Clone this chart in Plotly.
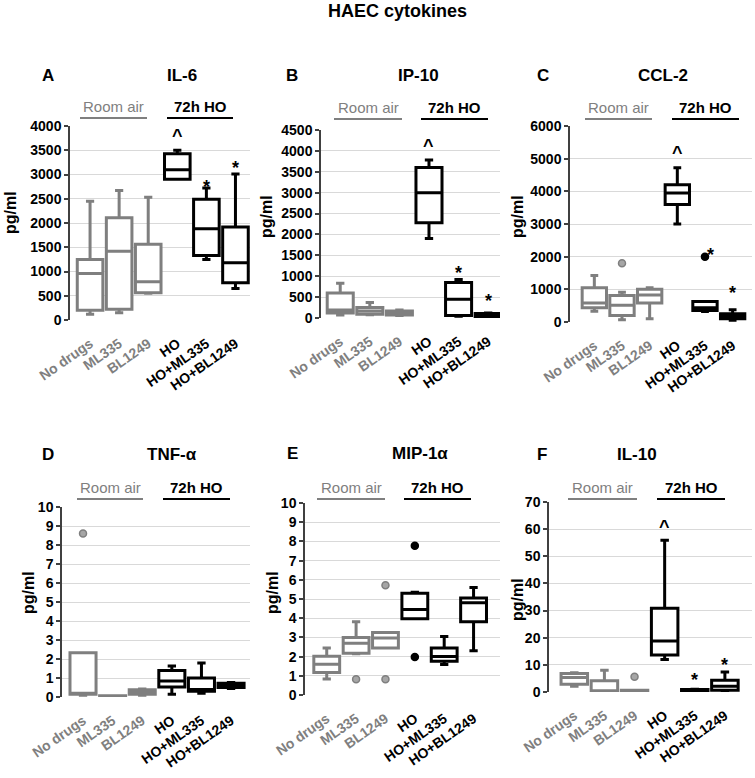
import plotly.graph_objects as go

W, H = 755, 778

CATEGORIES = ["No drugs", "ML335", "BL1249", "HO", "HO+ML335", "HO+BL1249"]

# ---- IL-6 (A) ----
IL6_LOW = [120, 150, 550, 2900, 1250, 650]
IL6_Q1 = [200, 220, 560, 2900, 1330, 770]
IL6_MED = [960, 1420, 790, 3100, 1880, 1180]
IL6_Q3 = [1250, 2110, 1560, 3430, 2490, 1920]
IL6_HIGH = [2450, 2670, 2530, 3500, 2720, 3010]
IL6_OUT_X = []
IL6_OUT_Y = []
IL6_MARK_X = ["HO", "HO+ML335", "HO+BL1249"]
IL6_MARK_Y = [3850, 2800, 3200]
IL6_MARK_T = ["^", "*", "*"]
IL6_TICKS = [0, 500, 1000, 1500, 2000, 2500, 3000, 3500, 4000]

# ---- IP-10 (B) ----
IP10_LOW = [70, 80, 60, 1900, 40, 10]
IP10_Q1 = [120, 90, 70, 2280, 60, 20]
IP10_MED = [190, 170, 120, 3000, 450, 60]
IP10_Q3 = [600, 250, 170, 3600, 850, 110]
IP10_HIGH = [830, 370, 190, 3780, 920, 120]
IP10_OUT_X = []
IP10_OUT_Y = []
IP10_MARK_X = ["HO", "HO+ML335", "HO+BL1249"]
IP10_MARK_Y = [4200, 1150, 480]
IP10_MARK_T = ["^", "*", "*"]
IP10_TICKS = [0, 500, 1000, 1500, 2000, 2500, 3000, 3500, 4000, 4500]

# ---- CCL-2 (C) ----
CCL2_LOW = [330, 70, 100, 3000, 325, 50]
CCL2_Q1 = [440, 200, 580, 3600, 355, 100]
CCL2_MED = [580, 510, 830, 3950, 440, 170]
CCL2_Q3 = [1050, 810, 1000, 4200, 630, 250]
CCL2_HIGH = [1420, 910, 1050, 4720, 630, 375]
CCL2_OUT_X = ["ML335", "HO+ML335"]
CCL2_OUT_Y = [1800, 2000]
CCL2_MARK_X = ["HO", "HO+ML335", "HO+BL1249"]
CCL2_MARK_Y = [5250, 2150, 980]
CCL2_MARK_T = ["^", "*", "*"]
CCL2_TICKS = [0, 1000, 2000, 3000, 4000, 5000, 6000]

# ---- TNF-alpha (D) ----
TNF_LOW = [0.09, 0.02, 0.09, 0.14, 0.2, 0.45]
TNF_Q1 = [0.14, 0.03, 0.14, 0.53, 0.3, 0.5]
TNF_MED = [0.16, 0.04, 0.25, 0.84, 0.4, 0.61]
TNF_Q3 = [2.33, 0.06, 0.38, 1.4, 1.0, 0.73]
TNF_HIGH = [2.33, 0.07, 0.42, 1.63, 1.79, 0.76]
TNF_OUT_X = ["No drugs"]
TNF_OUT_Y = [8.6]
TNF_MARK_X = []
TNF_MARK_Y = []
TNF_MARK_T = []
TNF_TICKS = [0, 1, 2, 3, 4, 5, 6, 7, 8, 9, 10]

# ---- MIP-1alpha (E) ----
MIP_LOW = [0.83, 2.15, 2.45, 3.97, 1.59, 2.3]
MIP_Q1 = [1.17, 2.17, 2.45, 3.97, 1.76, 3.82]
MIP_MED = [1.6, 2.69, 2.97, 4.45, 2.0, 4.8]
MIP_Q3 = [2.02, 3.0, 3.26, 5.3, 2.45, 5.05]
MIP_HIGH = [2.45, 3.82, 3.26, 5.35, 3.05, 5.6]
MIP_OUT_X = ["ML335", "BL1249", "BL1249", "HO", "HO"]
MIP_OUT_Y = [0.82, 5.72, 0.82, 7.77, 1.98]
MIP_MARK_X = []
MIP_MARK_Y = []
MIP_MARK_T = []
MIP_TICKS = [0, 1, 2, 3, 4, 5, 6, 7, 8, 9, 10]

# ---- IL-10 (F) ----
IL10_LOW = [2.1, 0.0, 0.0, 12.0, 0.05, 0.0]
IL10_Q1 = [2.85, 0.1, 0.05, 13.6, 0.1, 0.6]
IL10_MED = [5.3, 0.2, 0.5, 18.8, 0.4, 2.1]
IL10_Q3 = [6.8, 4.1, 0.6, 30.9, 0.9, 4.3]
IL10_HIGH = [7.1, 8.05, 0.6, 55.9, 1.0, 7.4]
IL10_OUT_X = ["BL1249"]
IL10_OUT_Y = [5.6]
IL10_MARK_X = ["HO", "HO+ML335", "HO+BL1249"]
IL10_MARK_Y = [62, 5.6, 11]
IL10_MARK_T = ["^", "*", "*"]
IL10_TICKS = [0, 10, 20, 30, 40, 50, 60, 70]

GRAY = "#7f7f7f"
BLACK = "#000000"
FONT = "Liberation Sans, Arial, sans-serif"


def fx(x):
    return x / W


def fy(y):
    return 1 - y / H


panels = [
    dict(letter="A", title="IL-6", low=IL6_LOW, q1=IL6_Q1, med=IL6_MED, q3=IL6_Q3, high=IL6_HIGH,
         ox=IL6_OUT_X, oy=IL6_OUT_Y, mx=IL6_MARK_X, my=IL6_MARK_Y, mt=IL6_MARK_T, mdx=[0, 0, 0],
         ticks=IL6_TICKS, box=(70, 250, 126, 320), xr=(-0.69, 5.5),
         letter_xy=(48, 75), title_xy=(182, 75), ylab_xy=(10, 213),
         ra=(80, 147), ho=(167, 233), uline=118),
    dict(letter="B", title="IP-10", low=IP10_LOW, q1=IP10_Q1, med=IP10_MED, q3=IP10_Q3, high=IP10_HIGH,
         ox=IP10_OUT_X, oy=IP10_OUT_Y, mx=IP10_MARK_X, my=IP10_MARK_Y, mt=IP10_MARK_T, mdx=[0, 0, 0],
         ticks=IP10_TICKS, box=(321, 500, 130, 318), xr=(-0.65, 5.4),
         letter_xy=(292, 75), title_xy=(418, 75), ylab_xy=(266, 217),
         ra=(334, 402), ho=(421, 488), uline=119),
    dict(letter="C", title="CCL-2", low=CCL2_LOW, q1=CCL2_Q1, med=CCL2_MED, q3=CCL2_Q3, high=CCL2_HIGH,
         ox=CCL2_OUT_X, oy=CCL2_OUT_Y, mx=CCL2_MARK_X, my=CCL2_MARK_Y, mt=CCL2_MARK_T, mdx=[0, 6, 0],
         ticks=CCL2_TICKS, box=(570, 752, 126, 322), xr=(-0.88, 5.7),
         letter_xy=(543, 75), title_xy=(663, 75), ylab_xy=(517, 217),
         ra=(585, 652), ho=(672, 739), uline=119),
    dict(letter="D", title="TNF-α", low=TNF_LOW, q1=TNF_Q1, med=TNF_MED, q3=TNF_Q3, high=TNF_HIGH,
         ox=TNF_OUT_X, oy=TNF_OUT_Y, mx=TNF_MARK_X, my=TNF_MARK_Y, mt=TNF_MARK_T, mdx=[],
         ticks=TNF_TICKS, box=(62, 250, 507, 697), xr=(-0.71, 5.64),
         letter_xy=(48, 454), title_xy=(172, 455), ylab_xy=(28, 593),
         ra=(77, 143), ho=(163, 230), uline=499),
    dict(letter="E", title="MIP-1α", low=MIP_LOW, q1=MIP_Q1, med=MIP_MED, q3=MIP_Q3, high=MIP_HIGH,
         ox=MIP_OUT_X, oy=MIP_OUT_Y, mx=MIP_MARK_X, my=MIP_MARK_Y, mt=MIP_MARK_T, mdx=[],
         ticks=MIP_TICKS, box=(305, 500, 503, 695), xr=(-0.74, 5.9),
         letter_xy=(292, 453), title_xy=(420, 453), ylab_xy=(272, 593),
         ra=(317, 385), ho=(404, 471), uline=499),
    dict(letter="F", title="IL-10", low=IL10_LOW, q1=IL10_Q1, med=IL10_MED, q3=IL10_Q3, high=IL10_HIGH,
         ox=IL10_OUT_X, oy=IL10_OUT_Y, mx=IL10_MARK_X, my=IL10_MARK_Y, mt=IL10_MARK_T, mdx=[0, 0, 0],
         ticks=IL10_TICKS, box=(549, 752, 502, 692), xr=(-0.84, 5.9),
         letter_xy=(542, 455), title_xy=(637, 455), ylab_xy=(517, 600),
         ra=(568, 637), ho=(657, 725), uline=499),
]

fig = go.Figure()
annotations = []
shapes = []

ticktext = [
    f"<span style='color:{GRAY}'><b>{c}</b></span>" if i < 3 else f"<b>{c}</b>"
    for i, c in enumerate(CATEGORIES)
]


def note(x, y, text, size, color=BLACK, angle=0, yanchor="middle"):
    return dict(x=fx(x), y=fy(y), xref="paper", yref="paper", text=text, showarrow=False,
                xanchor="center", yanchor=yanchor, textangle=angle,
                font=dict(family=FONT, size=size, color=color))


for k, p in enumerate(panels):
    n = "" if k == 0 else str(k + 1)
    xa, ya = "x" + n, "y" + n
    for sl, col in ((slice(0, 3), GRAY), (slice(3, 6), BLACK)):
        fig.add_trace(go.Box(
            x=CATEGORIES[sl], q1=p["q1"][sl], median=p["med"][sl], q3=p["q3"][sl],
            lowerfence=p["low"][sl], upperfence=p["high"][sl],
            boxpoints=False, width=0.88, whiskerwidth=0.32,
            line=dict(color=col, width=3), fillcolor="white",
            xaxis=xa, yaxis=ya, showlegend=False, hoverinfo="skip",
        ))
    if p["ox"]:
        cols = [GRAY if CATEGORIES.index(c) < 3 else BLACK for c in p["ox"]]
        fills = ["#a6a6a6" if CATEGORIES.index(c) < 3 else BLACK for c in p["ox"]]
        fig.add_trace(go.Scatter(
            x=p["ox"], y=p["oy"], mode="markers",
            marker=dict(size=7, color=fills, line=dict(color=cols, width=1.5)),
            xaxis=xa, yaxis=ya, showlegend=False, hoverinfo="skip", cliponaxis=False,
        ))
    for mx, my, mt, dx in zip(p["mx"], p["my"], p["mt"], p["mdx"]):
        annotations.append(dict(
            x=mx, y=my, xref=xa, yref=ya, text=f"<b>{mt}</b>", showarrow=False,
            xanchor="center", yanchor="middle", xshift=dx,
            font=dict(family=FONT, size=18, color=BLACK), yshift=-3,
        ))

    x0, x1, y0, y1 = p["box"]
    yt = p["ticks"]
    fig.update_layout({
        ("xaxis" + n): dict(
            domain=[fx(x0), fx(x1)], anchor=ya, type="category",
            categoryorder="array", categoryarray=CATEGORIES, automargin=False,
            range=list(p["xr"]), tickmode="array", tickvals=CATEGORIES, ticktext=ticktext,
            tickangle=-35, showgrid=False, showline=False, zeroline=False, ticks="",
            ticklabelstandoff=12,
            tickfont=dict(family=FONT, size=14, color=BLACK),
        ),
        ("yaxis" + n): dict(
            domain=[fy(y1), fy(y0)], anchor=xa, range=[yt[0], yt[-1]], automargin=False,
            tickmode="array", tickvals=yt, ticktext=[f"<b>{v}</b>" for v in yt],
            showgrid=True, gridcolor="#d9d9d9", gridwidth=1, zeroline=False,
            showline=True, linecolor="#404040", linewidth=1.5,
            ticks="outside", ticklen=4, tickcolor="#404040", tickwidth=1.5,
            tickfont=dict(family=FONT, size=14, color=BLACK),
        ),
    })

    annotations.append(note(*p["letter_xy"], "<b>" + p["letter"] + "</b>", 17))
    annotations.append(note(*p["title_xy"], "<b>" + p["title"] + "</b>", 17))
    annotations.append(note(*p["ylab_xy"], "<b>pg/ml</b>", 16, angle=-90))
    u = p["uline"]
    for (a, b), col, label in ((p["ra"], GRAY, "Room air"), (p["ho"], BLACK, "<b>72h HO</b>")):
        shapes.append(dict(type="line", xref="paper", yref="paper", x0=fx(a), x1=fx(b),
                           y0=fy(u), y1=fy(u), line=dict(color=col, width=2)))
        annotations.append(note((a + b) / 2, u - 1, label, 15, color=col, yanchor="bottom"))

annotations.append(note(397, 11, "<b>HAEC cytokines</b>", 18))

fig.update_layout(
    width=W, height=H, margin=dict(l=0, r=0, t=0, b=0, autoexpand=False),
    paper_bgcolor="white", plot_bgcolor="white",
    boxmode="overlay", showlegend=False,
    annotations=annotations, shapes=shapes,
    font=dict(family=FONT),
)

fig.write_html("out.html", config={"displayModeBar": False},
               post_script="document.body.style.margin='0px';")
